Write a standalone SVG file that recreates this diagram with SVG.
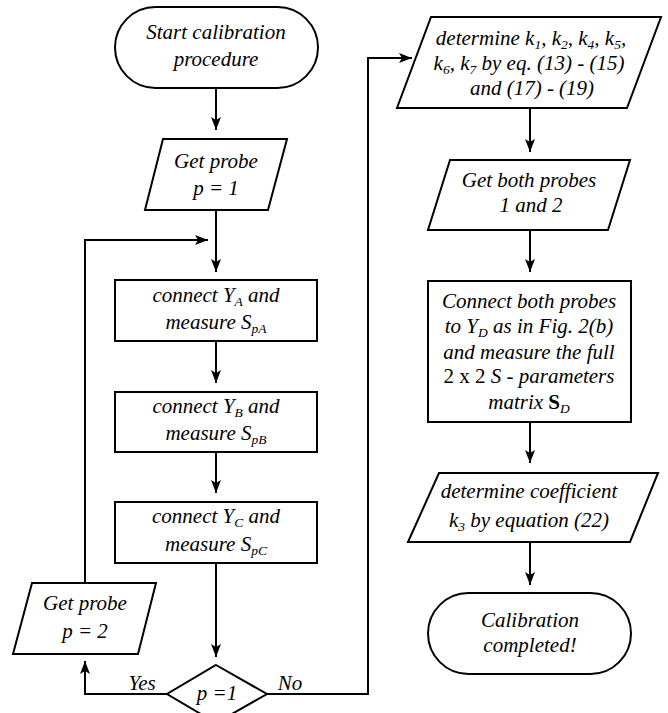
<svg xmlns="http://www.w3.org/2000/svg" width="668" height="713" viewBox="0 0 668 713">
<style>
.s{fill:#fff;stroke:#000;stroke-width:2}
.c{fill:none;stroke:#000;stroke-width:2}
.t{font-family:'Liberation Serif','Times New Roman',serif;font-style:italic;font-size:21px;fill:#000;text-anchor:middle}
.sb{font-size:13.5px}
.up{font-style:normal}
.bd{font-style:normal;font-weight:bold}
</style>
<defs>
<marker id="ah" markerWidth="14" markerHeight="10" refX="13" refY="5" orient="auto" markerUnits="userSpaceOnUse">
<path d="M0,0 L13,5 L0,10 L3,5 z" fill="#000"/>
</marker>
</defs>
<rect width="668" height="713" fill="#fff"/>
<g id="connectors">
<path class="c" d="M216,88 V130" marker-end="url(#ah)"/>
<path class="c" d="M216,210 V272" marker-end="url(#ah)"/>
<path class="c" d="M85,583 V240 H208" marker-end="url(#ah)"/>
<path class="c" d="M216,341 V383" marker-end="url(#ah)"/>
<path class="c" d="M216,452 V493" marker-end="url(#ah)"/>
<path class="c" d="M216,563 V657" marker-end="url(#ah)"/>
<path class="c" d="M167,694 H85 V661" marker-end="url(#ah)"/>
<path class="c" d="M267,694 H368 V58 H412" marker-end="url(#ah)"/>
<path class="c" d="M530,108 V152" marker-end="url(#ah)"/>
<path class="c" d="M530,230 V272" marker-end="url(#ah)"/>
<path class="c" d="M530,422 V463" marker-end="url(#ah)"/>
<path class="c" d="M530,542 V585" marker-end="url(#ah)"/>
<text class="t" x="142" y="690">Yes</text>
<text class="t" x="290" y="690">No</text>
</g>
<g id="start">
<rect class="s" x="115" y="7" width="203" height="81" rx="40.5"/>
<text class="t" x="216" y="39">Start calibration</text>
<text class="t" x="216" y="66">procedure</text>
</g>
<g id="getprobe1">
<polygon class="s" points="163,139 287,139 268,210 145,210"/>
<text class="t" x="216" y="168">Get probe</text>
<text class="t" x="216" y="195">p = 1</text>
</g>
<g id="boxA">
<rect class="s" x="115" y="280" width="202" height="61"/>
<text class="t" x="216" y="302">connect Y<tspan class="sb" dy="4">A</tspan><tspan dy="-4"> and</tspan></text>
<text class="t" x="216" y="329">measure S<tspan class="sb" dy="4">pA</tspan></text>
</g>
<g id="boxB">
<rect class="s" x="115" y="392" width="202" height="60"/>
<text class="t" x="216" y="413">connect Y<tspan class="sb" dy="4">B</tspan><tspan dy="-4"> and</tspan></text>
<text class="t" x="216" y="440">measure S<tspan class="sb" dy="4">pB</tspan></text>
</g>
<g id="boxC">
<rect class="s" x="115" y="502" width="202" height="61"/>
<text class="t" x="216" y="523">connect Y<tspan class="sb" dy="4">C</tspan><tspan dy="-4"> and</tspan></text>
<text class="t" x="216" y="551">measure S<tspan class="sb" dy="4">pC</tspan></text>
</g>
<g id="getprobe2">
<polygon class="s" points="32,583 156,583 138,654 13,654"/>
<text class="t" x="85" y="610">Get probe</text>
<text class="t" x="85" y="638">p = 2</text>
</g>
<g id="decision">
<polygon class="s" points="216,665 267,694 216,723 167,694"/>
<text class="t" x="217" y="700">p =1</text>
</g>
<g id="determineK">
<polygon class="s" points="431,17 661,17 627,108 397,108"/>
<text class="t" x="531" y="45">determine k<tspan class="sb" dy="4">1</tspan><tspan dy="-4">, k</tspan><tspan class="sb" dy="4">2</tspan><tspan dy="-4">, k</tspan><tspan class="sb" dy="4">4</tspan><tspan dy="-4">, k</tspan><tspan class="sb" dy="4">5</tspan><tspan dy="-4">,</tspan></text>
<text class="t" x="529" y="70">k<tspan class="sb" dy="4">6</tspan><tspan dy="-4">, k</tspan><tspan class="sb" dy="4">7</tspan><tspan dy="-4"> by eq. (13) - (15)</tspan></text>
<text class="t" x="532" y="95">and (17) - (19)</text>
</g>
<g id="getboth">
<polygon class="s" points="450,160 630,160 608,230 428,230"/>
<text class="t" x="529" y="187">Get both probes</text>
<text class="t" x="531" y="212">1 and 2</text>
</g>
<g id="boxD">
<rect class="s" x="428" y="281" width="203" height="141"/>
<text class="t" x="529" y="308">Connect both probes</text>
<text class="t" x="529" y="333">to Y<tspan class="sb" dy="4">D</tspan><tspan dy="-4"> as in Fig. 2(b)</tspan></text>
<text class="t" x="529" y="359">and measure the full</text>
<text class="t" x="529" y="383"><tspan class="up">2 x 2 </tspan>S - parameters</text>
<text class="t" x="529" y="409">matrix <tspan class="bd">S</tspan><tspan class="sb" dy="4">D</tspan></text>
</g>
<g id="determineK3">
<polygon class="s" points="439,473 658,473 630,542 408,542"/>
<text class="t" x="529" y="498">determine coefficient</text>
<text class="t" x="529" y="527">k<tspan class="sb" dy="4">3</tspan><tspan dy="-4"> by equation (22)</tspan></text>
</g>
<g id="end">
<rect class="s" x="428" y="593" width="203" height="81" rx="40.5"/>
<text class="t" x="530" y="627">Calibration</text>
<text class="t" x="530" y="652">completed!</text>
</g>
</svg>
